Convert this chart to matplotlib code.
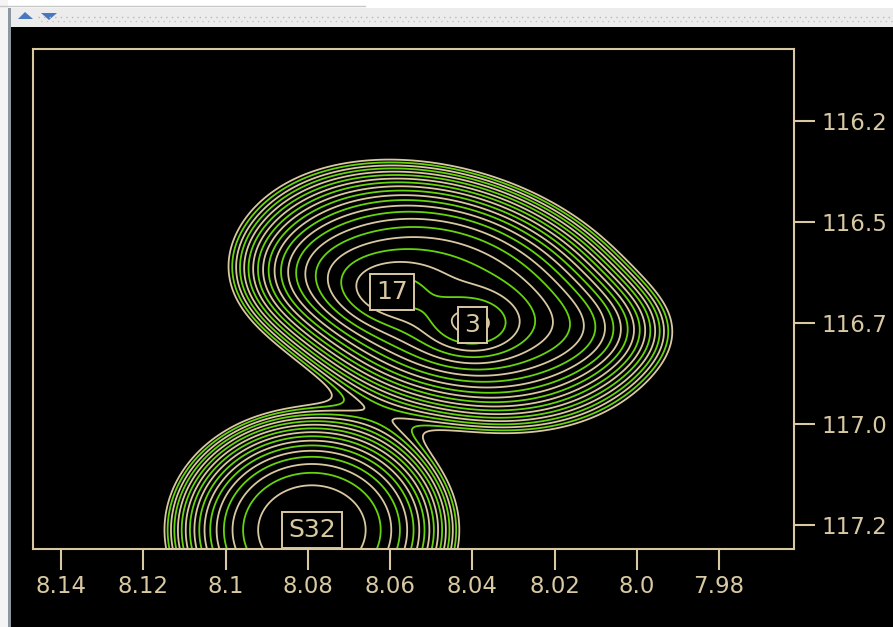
import matplotlib
matplotlib.use("Agg")
import matplotlib.pyplot as plt
from matplotlib.patches import Rectangle, Polygon
from matplotlib.lines import Line2D
import numpy as np

#  Peak table (ppm): labelled peaks plus unlabelled envelope / shoulders
peak_names = ["17", "3", "S32", "", "", ""]
peak_x = [8.0595, 8.0400, 8.0790, 8.0460, 8.0780, 8.0115]
peak_y = [116.673, 116.755, 117.262, 116.684, 116.630, 116.765]
peak_height = [0.45, 0.75, 1.25, 1.35, 0.25, 0.20]
peak_wx = [0.0085, 0.0073, 0.0182, 0.0253, 0.0110, 0.0120]
peak_wy = [0.0545, 0.0495, 0.1540, 0.1700, 0.0800, 0.0720]
peak_rho = [0.0, 0.0, 0.0, -0.28, 0.0, 0.0]
peak_shape = [1.0, 1.0, 1.4, 1.4, 1.0, 1.0]

#  Contour levels (outermost first), colours alternate
levels = [0.100, 0.116, 0.135, 0.156, 0.181, 0.210, 0.244, 0.283, 0.328,
          0.381, 0.442, 0.512, 0.594, 0.689, 0.800, 0.927, 1.076, 1.248,
          1.448, 1.680, 1.950]
beige = "#d8c9a3"
green = "#66d40c"

#  Axis ticks
x_ticks = [8.14, 8.12, 8.10, 8.08, 8.06, 8.04, 8.02, 8.00, 7.98]
x_labels = ["8.14", "8.12", "8.1", "8.08", "8.06", "8.04", "8.02", "8.0", "7.98"]
y_ticks = [116.25, 116.5, 116.75, 117.0, 117.25]
y_labels = ["116.2", "116.5", "116.7", "117.0", "117.2"]
x_lim = (8.1468, 7.9618)
y_lim = (117.309, 116.072)

#  Build the spectrum surface from the peak table
gx = np.linspace(7.94, 8.17, 500)
gy = np.linspace(115.9, 117.6, 450)
X, Y = np.meshgrid(gx, gy)
Z = np.zeros_like(X)
for i in range(len(peak_x)):
	u = (X - peak_x[i]) / peak_wx[i]
	v = (Y - peak_y[i]) / peak_wy[i]
	r = peak_rho[i]
	q = 0.5 * (u * u - 2 * r * u * v + v * v) / (1 - r * r)
	Z += peak_height[i] * np.exp(-q ** peak_shape[i])

fig = plt.figure(figsize=(8.93, 6.27), dpi=100)
fig.patch.set_facecolor("black")
W, H = 893.0, 627.0

#  Window chrome: white strip, toolbar, left border
fig.add_artist(Rectangle((0, 1 - 8 / H), 1, 8 / H, transform=fig.transFigure,
                         facecolor="#ffffff", edgecolor="none"))
fig.add_artist(Line2D([0, 365 / W], [1 - 6 / H, 1 - 6 / H], transform=fig.transFigure,
                      color="#c8c8c8", lw=1))
fig.add_artist(Rectangle((0, 1 - 27 / H), 1, 19 / H, transform=fig.transFigure,
                         facecolor="#ececec", edgecolor="none"))
fig.add_artist(Line2D([38 / W, 1], [1 - 17 / H, 1 - 17 / H], transform=fig.transFigure,
                      color="#b8b8b8", lw=1, ls=(0, (1, 3))))
fig.add_artist(Line2D([38 / W, 1], [1 - 21 / H, 1 - 21 / H], transform=fig.transFigure,
                      color="#c4c4c4", lw=1, ls=(2, (1, 3))))
fig.add_artist(Rectangle((0, 0), 8 / W, 1, transform=fig.transFigure,
                         facecolor="#f4f4f4", edgecolor="none"))
fig.add_artist(Rectangle((8 / W, 0), 3 / W, 1 - 8 / H, transform=fig.transFigure,
                         facecolor="#8e96a0", edgecolor="none"))
fig.add_artist(Polygon([[18 / W, 1 - 19 / H], [25 / W, 1 - 12 / H], [33 / W, 1 - 19 / H]],
                       closed=True, transform=fig.transFigure, facecolor="#4a78c0",
                       edgecolor="none"))
fig.add_artist(Polygon([[41 / W, 1 - 13 / H], [57 / W, 1 - 13 / H], [49 / W, 1 - 20 / H]],
                       closed=True, transform=fig.transFigure, facecolor="#4a78c0",
                       edgecolor="none"))

ax = fig.add_axes([33 / W, 1 - 549 / H, 761 / W, 500 / H])
ax.set_facecolor("black")

colors = [beige if i % 2 == 0 else green for i in range(len(levels))]
ax.contour(X, Y, Z, levels=levels, colors=colors, linewidths=1.3)

for i in range(len(peak_names)):
	if peak_names[i] == "":
		continue
	ax.text(peak_x[i], peak_y[i], peak_names[i], color=beige, fontsize=18,
	        ha="center", va="center", clip_on=True,
	        bbox=dict(boxstyle="square,pad=0.25", facecolor="black",
	                  edgecolor=beige, linewidth=1.4))

ax.set_xlim(*x_lim)
ax.set_ylim(*y_lim)
ax.set_xticks(x_ticks)
ax.set_xticklabels(x_labels)
ax.set_yticks(y_ticks)
ax.set_yticklabels(y_labels)
ax.yaxis.tick_right()
for s in ax.spines.values():
	s.set_color(beige)
	s.set_linewidth(1.5)
ax.tick_params(colors=beige, labelcolor=beige, length=15, width=1.5,
               direction="out", labelsize=16.5)
ax.tick_params(axis="x", pad=4)
ax.tick_params(axis="y", pad=5)

fig.savefig("out.png", dpi=100, facecolor=fig.get_facecolor())
